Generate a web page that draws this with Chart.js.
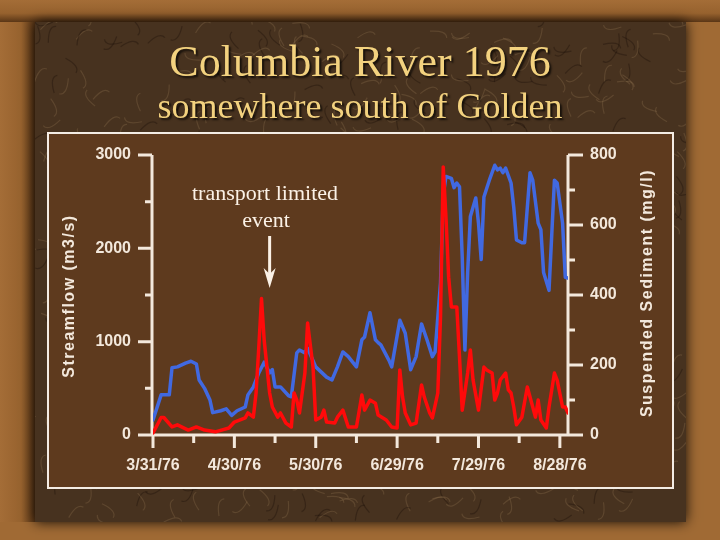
<!DOCTYPE html>
<html lang="en">
  <head>
    <meta charset="utf-8">
    <title>Columbia River 1976</title>
    <script src="https://cdn.jsdelivr.net/npm/chart.js"></script>
    <style>
      body {
        margin: 0;
        background: #a06a34;
      }
      #chart {
        display: block;
      }
    </style>
  </head>
  <body>
    <canvas id="chart" width="720" height="540"></canvas>

  <script>
      // days after 3/31/76
      const flowDays = [0,3,6,7,9,12,14,16,17,19,21,22,25,27,29,31,34,35,37,39,41,43,44,45,47,50,51,53,54,56,57,60,64,66,68,70,72,75,77,78,80,82,83,84,87,88,91,93,95,97,99,101,103,104,106,107,108,110,111,112,113,114,115,116,117,119,120,121,122,124,126,127,128,129,130,132,133,134,136,137,139,140,142,143,144,146,148,149,151,152,153];
      // streamflow m3/s
      const flow = [160,430,430,720,730,770,790,760,590,500,375,240,260,280,210,260,300,430,515,665,780,665,700,515,515,420,410,880,910,880,930,730,620,590,730,890,840,730,1020,1050,1310,1020,990,965,800,730,1230,1090,700,840,1190,1020,840,890,1630,2570,2770,2750,2650,2700,2660,1910,910,1740,2340,2540,2270,1880,2550,2730,2890,2840,2860,2810,2860,2700,2440,2090,2060,2060,2810,2730,2270,2200,1740,1550,2730,2700,2270,1690,1680];

      const sedDays = [0,3,4,7,9,13,16,19,23,28,30,34,35,37,38,39,40,41,43,44,46,47,49,51,52,53,54,56,57,59,60,62,63,64,67,68,70,72,75,77,78,80,82,83,86,88,90,91,92,93,95,97,99,100,102,103,105,106,107,108,109,110,112,113,114,116,117,118,120,122,123,125,126,127,128,130,131,132,133,134,136,138,140,141,142,143,145,146,148,149,151,152,153];
      // suspended sediment mg/l
      const sediment = [6,50,50,23,29,14,23,14,9,20,37,49,63,51,120,250,390,270,120,80,51,63,34,23,120,100,63,177,320,194,43,51,71,37,34,51,71,23,23,114,71,100,91,57,43,23,20,186,109,63,29,34,143,109,63,49,120,337,766,623,451,366,366,223,71,177,243,157,71,194,186,177,100,120,157,177,129,120,80,29,51,137,80,51,100,43,20,80,177,157,80,80,63];

      const dateTicks = [0, 30, 60, 90, 120, 150];
      const dateLabels = ['3/31/76', '4/30/76', '5/30/76', '6/29/76', '7/29/76', '8/28/76'];
      const flowTicks = [0, 1000, 2000, 3000];
      const sedTicks = [0, 200, 400, 600, 800];

      const cream = '#f3e8dc';
      const sans = '"Liberation Sans", Arial, sans-serif';
      const serif = '"Liberation Serif", "Times New Roman", serif';

      // slide frame, marble, panel and titles
      const slide = {
        id: 'slide',
        beforeDraw(chart) {
          const c = chart.ctx;
          c.save();
          c.fillStyle = '#a06a34';
          c.fillRect(0, 0, 720, 540);
          // bevel on the wood frame
          let g = c.createLinearGradient(0, 0, 0, 22);
          g.addColorStop(0, '#a46d37');
          g.addColorStop(0.6, '#97622e');
          g.addColorStop(1, '#5a3616');
          c.fillStyle = g;
          c.fillRect(0, 0, 720, 22);
          g = c.createLinearGradient(0, 0, 35, 0);
          g.addColorStop(0, '#a46d37');
          g.addColorStop(0.6, '#97622e');
          g.addColorStop(1, '#5a3616');
          c.fillStyle = g;
          c.fillRect(0, 22, 35, 500);

          c.shadowColor = 'rgba(0,0,0,0.9)';
          c.shadowBlur = 12;
          c.fillStyle = '#47321f';
          c.fillRect(35, 22, 651, 500);
          c.shadowBlur = 0;
          c.shadowColor = 'transparent';

          // marble veins
          c.beginPath();
          c.rect(35, 22, 651, 500);
          c.clip();
          c.lineWidth = 1.2;
          for (let i = 0; i < 700; i++) {
            const x = 35 + ((Math.sin(i * 12.9898) * 43758.5453) % 1 + 1) % 1 * 651;
            const y = 22 + ((Math.sin(i * 78.233) * 12345.678) % 1 + 1) % 1 * 500;
            const a = i * 2.3;
            c.strokeStyle = i % 3 === 0 ? 'rgba(25,15,8,0.35)' : 'rgba(175,140,100,0.22)';
            c.beginPath();
            c.moveTo(x, y);
            c.quadraticCurveTo(x + 8 * Math.cos(a + 1.2), y + 8 * Math.sin(a + 1.2), x + 18 * Math.cos(a), y + 18 * Math.sin(a));
            c.stroke();
          }
          c.restore();

          c.save();
          c.fillStyle = '#5e3a1e';
          c.fillRect(48, 133, 625, 355);
          c.strokeStyle = '#f4ece4';
          c.lineWidth = 2;
          c.strokeRect(48, 133, 625, 355);

          c.fillStyle = '#f3d27f';
          c.textAlign = 'center';
          c.textBaseline = 'alphabetic';
          c.shadowColor = 'rgba(0,0,0,0.7)';
          c.shadowOffsetX = 2;
          c.shadowOffsetY = 2;
          c.shadowBlur = 2;
          c.font = '44px ' + serif;
          c.fillText('Columbia River 1976', 360, 76);
          c.font = '36px ' + serif;
          c.fillText('somewhere south of Golden', 360, 118);
          c.restore();
        },
        beforeDatasetsDraw(chart) {
          const c = chart.ctx;
          const x = chart.scales.x, yl = chart.scales.yFlow, yr = chart.scales.ySed;
          const left = chart.chartArea.left - 1, right = chart.chartArea.right, bottom = yl.getPixelForValue(0);
          c.save();
          c.strokeStyle = cream;
          c.fillStyle = cream;
          c.lineWidth = 3;
          c.lineCap = 'butt';
          c.beginPath();
          c.moveTo(left, yl.getPixelForValue(3000));
          c.lineTo(left, bottom);
          c.moveTo(right, yr.getPixelForValue(800));
          c.lineTo(right, bottom);
          c.moveTo(left, bottom);
          c.lineTo(right, bottom);
          // left ticks
          for (let v = 0; v <= 3000; v += 500) {
            const p = yl.getPixelForValue(v);
            c.moveTo(left - (v % 1000 === 0 ? 14 : 7), p);
            c.lineTo(left, p);
          }
          // right ticks
          for (let v = 0; v <= 800; v += 100) {
            const p = yr.getPixelForValue(v);
            c.moveTo(right, p);
            c.lineTo(right + (v % 200 === 0 ? 15 : 7), p);
          }
          // date ticks
          for (let d = 0; d <= 150; d += 15) {
            const p = x.getPixelForValue(d);
            c.moveTo(p, bottom);
            c.lineTo(p, bottom + (d % 30 === 0 ? 13 : 8));
          }
          c.stroke();

          c.font = 'bold 16px ' + sans;
          c.textBaseline = 'middle';
          c.textAlign = 'right';
          flowTicks.forEach(v => c.fillText(String(v), left - 21, yl.getPixelForValue(v)));
          c.textAlign = 'left';
          sedTicks.forEach(v => c.fillText(String(v), right + 22, yr.getPixelForValue(v)));
          c.textAlign = 'center';
          dateTicks.forEach((d, i) => c.fillText(dateLabels[i], x.getPixelForValue(d), bottom + 31));

          c.font = 'bold 16px ' + sans;
          c.letterSpacing = '1.5px';
          c.save();
          c.translate(70, 296);
          c.rotate(-Math.PI / 2);
          c.fillText('Streamflow (m3/s)', 0, 0);
          c.restore();
          c.save();
          c.translate(648, 293);
          c.rotate(-Math.PI / 2);
          c.fillText('Suspended Sediment (mg/l)', 0, 0);
          c.restore();
          c.restore();
        },
        afterDatasetsDraw(chart) {
          const c = chart.ctx;
          const ax = chart.scales.x.getPixelForValue(43);
          c.save();
          c.fillStyle = '#fbf1e6';
          c.strokeStyle = '#fbf1e6';
          c.font = '22px ' + serif;
          c.textAlign = 'center';
          c.fillText('transport limited', 265, 200);
          c.fillText('event', 266, 227);
          c.lineWidth = 3;
          c.beginPath();
          c.moveTo(ax, 236);
          c.lineTo(ax, 274);
          c.stroke();
          c.beginPath();
          c.moveTo(ax - 6, 268);
          c.lineTo(ax, 288);
          c.lineTo(ax + 6, 268);
          c.lineTo(ax, 274);
          c.closePath();
          c.fill();
          c.restore();
        }
      };

      const ctx = document.getElementById('chart').getContext('2d');
      const myChart = new Chart(ctx, {
          type: 'line',
          data: {
              datasets: [
                  {
                      label: 'Suspended Sediment',
                      data: sedDays.map((d, i) => ({ x: d, y: sediment[i] })),
                      yAxisID: 'ySed',
                      borderColor: '#ff0a0a',
                      borderWidth: 3.5,
                      order: 0,
                  },
                  {
                      label: 'Streamflow',
                      data: flowDays.map((d, i) => ({ x: d, y: flow[i] })),
                      yAxisID: 'yFlow',
                      borderColor: '#4169e1',
                      borderWidth: 3.5,
                      order: 1,
                  },
              ],
          },
          options: {
              responsive: false,
              animation: false,
              devicePixelRatio: 1,
              layout: { padding: { left: 153, right: 152, top: 155, bottom: 105 } },
              elements: {
                  point: { radius: 0 },
                  line: { tension: 0, borderJoinStyle: 'round', borderCapStyle: 'round' },
              },
              plugins: { legend: { display: false }, tooltip: { enabled: false } },
              scales: {
                  x: { type: 'linear', min: 0, max: 153, display: false },
                  yFlow: { type: 'linear', position: 'left', min: 0, max: 3000, display: false },
                  ySed: { type: 'linear', position: 'right', min: 0, max: 800, display: false },
              },
          },
          plugins: [slide],
      });
  </script>
  </body>
</html>
